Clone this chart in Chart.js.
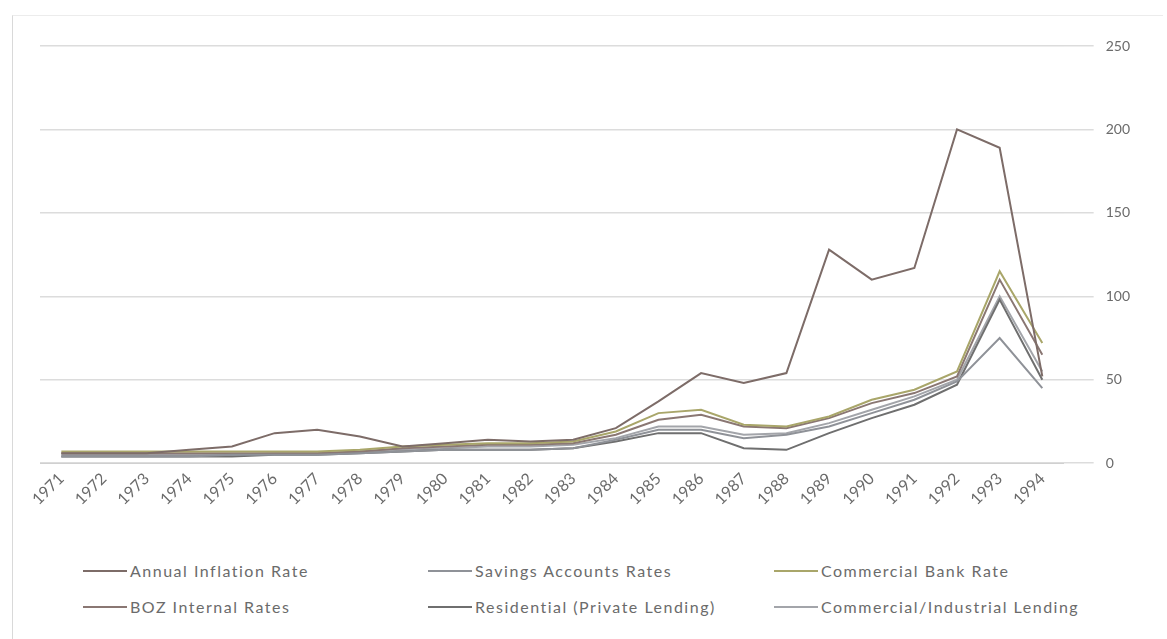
<!DOCTYPE html>
<html lang="en">
<head>
<meta charset="UTF-8">
<title>Zambia interest and inflation rates</title>
<script src="https://cdn.jsdelivr.net/npm/chart.js"></script>
<style>
    body { margin: 0; background: #ffffff; font-family: Lato, "Open Sans", sans-serif; }
    .moldura { position: absolute; left: 12px; top: 15px; width: 1150px; height: 624px; border-left: 1px solid #d9d9d9; border-top: 1px solid #ececec; }
    .caixa_grafico { position: absolute; left: 12px; top: 15px; width: 1140px; height: 535px; }
    .legenda { position: absolute; left: 0; top: 561px; width: 1167px; }
    .item { position: absolute; display: flex; align-items: center; font-size: 16px; letter-spacing: 1.5px; color: #6b6b6b; }
    .item span.traco { display: inline-block; width: 44px; height: 2px; margin-right: 3px; }
</style>
</head>
<body>
<div class="moldura"></div>
<div class="caixa_grafico"><canvas id="grafico_taxas"></canvas></div>
<div class="legenda" id="legenda"></div>

<script>
    // anos
    var anos = ['1971','1972','1973','1974','1975','1976','1977','1978','1979','1980','1981','1982',
                '1983','1984','1985','1986','1987','1988','1989','1990','1991','1992','1993','1994'];

    var inflacao     = [6, 6, 6, 8, 10, 18, 20, 16, 10, 12, 14, 13, 14, 21, 37, 54, 48, 54, 128, 110, 117, 200, 189, 52];
    var poupanca     = [4, 4, 4, 4, 5, 5, 5, 6, 7, 8, 8, 8, 9, 14, 20, 20, 15, 17, 22, 30, 38, 49, 75, 45];
    var bancoComerc  = [7, 7, 7, 7, 7, 7, 7, 8, 10, 11, 12, 12, 13, 19, 30, 32, 23, 22, 28, 38, 44, 55, 115, 72];
    var bozInterna   = [6, 6, 6, 6, 6, 6, 6, 7, 9, 10, 11, 11, 12, 17, 26, 29, 22, 21, 27, 36, 42, 52, 110, 65];
    var residencial  = [4, 4, 4, 4, 4, 5, 5, 6, 7, 8, 8, 8, 9, 13, 18, 18, 9, 8, 18, 27, 35, 47, 98, 50];
    var comercialInd = [5, 5, 5, 5, 5, 6, 6, 7, 8, 9, 10, 10, 11, 15, 22, 22, 17, 18, 24, 32, 40, 50, 100, 55];

    var nomes = ['Annual Inflation Rate', 'Savings Accounts Rates', 'Commercial Bank Rate',
                 'BOZ Internal Rates', 'Residential (Private Lending)', 'Commercial/Industrial Lending'];
    var cores = ['#7d6c68', '#8f9298', '#a9a66a', '#8a7773', '#6f6f6f', '#a3a5aa'];
    var valores = [inflacao, poupanca, bancoComerc, bozInterna, residencial, comercialInd];

    var conjuntos = [];
    for (var i = 0; i < nomes.length; i++) {
        conjuntos.push({
            label: nomes[i],
            data: valores[i],
            borderColor: cores[i],
            backgroundColor: cores[i],
            borderWidth: 2,
            pointRadius: 0,
            tension: 0
        });
    }

    var ctx = document.getElementById('grafico_taxas').getContext('2d');

    var config = {
        type: 'line',
        data: { labels: anos, datasets: conjuntos },
        options: {
            responsive: true,
            maintainAspectRatio: false,
            animation: false,
            layout: { padding: { left: 28, right: 10, top: 31, bottom: 35 } },
            plugins: { legend: { display: false }, tooltip: { enabled: false } },
            scales: {
                x: {
                    offset: true,
                    grid: { display: false, drawTicks: false },
                    border: { color: '#d0d0d0', width: 1 },
                    ticks: { minRotation: 45, maxRotation: 45, padding: 6, color: '#6b6b6b', font: { family: 'Lato', size: 16 } }
                },
                y: {
                    position: 'right',
                    min: 0, max: 250,
                    ticks: { stepSize: 50, color: '#6b6b6b', padding: 12, font: { family: 'Lato', size: 14 } },
                    grid: { color: '#dcdcdc', lineWidth: 1.5, tickLength: 30, tickColor: '#dcdcdc' },
                    border: { display: false }
                }
            }
        }
    };

    new Chart(ctx, config);

    // legenda em 3 colunas, como no original
    var posX = [83, 428, 774];
    var posY = [0, 36];
    var leg = document.getElementById('legenda');
    for (var j = 0; j < nomes.length; j++) {
        var d = document.createElement('div');
        d.className = 'item';
        d.style.left = posX[j % 3] + 'px';
        d.style.top = posY[Math.floor(j / 3)] + 'px';
        d.innerHTML = '<span class="traco" style="background:' + cores[j] + '"></span>' + nomes[j];
        leg.appendChild(d);
    }
</script>
</body>
</html>
